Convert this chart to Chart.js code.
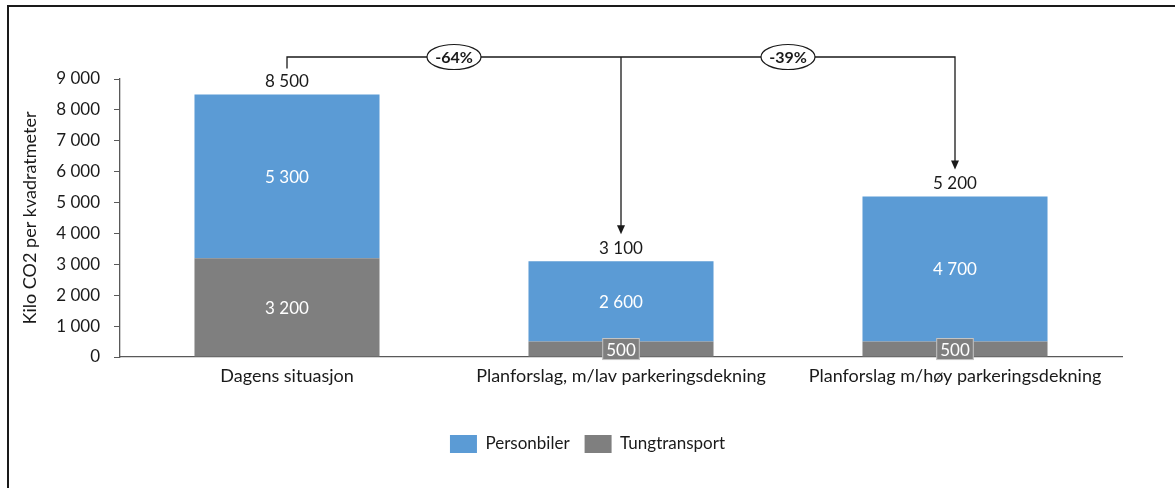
<!DOCTYPE html>
<html>
<head>
<meta charset="utf-8">
<script src="https://cdn.jsdelivr.net/npm/chart.js@4"></script>
<style>
  html, body { margin: 0; padding: 0; background: #fff; }
  #wrap { position: absolute; left: 0; top: 0; width: 1175px; height: 488px; }
</style>
</head>
<body>
<div id="wrap"><canvas id="chart" width="1175" height="488"></canvas></div>
<script>
// Data
const categories   = ['Dagens situasjon', 'Planforslag, m/lav parkeringsdekning', 'Planforslag m/høy parkeringsdekning'];
const personbiler  = [5300, 2600, 4700];
const tungtransport = [3200, 500, 500];
const changeLabels = ['-64%', '-39%'];
const yTicks       = [0, 1000, 2000, 3000, 4000, 5000, 6000, 7000, 8000, 9000];

const BLUE = '#5b9bd5';
const GRAY = '#7f7f7f';
const FONT = 'Lato, "Open Sans", sans-serif';

function fmt(v) {
  return String(Math.round(v)).replace(/\B(?=(\d{3})+(?!\d))/g, '\u00a0');
}

// ramme rundt figuren (kun topp og venstre synlig)
const framePlugin = {
  id: 'frame',
  beforeDraw(chart) {
    const c = chart.ctx;
    c.save();
    c.fillStyle = '#fff';
    c.fillRect(0, 0, chart.width, chart.height);
    c.strokeStyle = '#1a1a1a';
    c.lineWidth = 2;
    c.beginPath();
    c.moveTo(8, chart.height + 5);
    c.lineTo(8, 6);
    c.lineTo(chart.width + 5, 6);
    c.stroke();
    c.restore();
  }
};

// verdier i og over stolpene
const labelPlugin = {
  id: 'barLabels',
  afterDatasetsDraw(chart) {
    const c = chart.ctx;
    const y = chart.scales.y;
    c.save();
    c.font = '17px ' + FONT;
    c.textAlign = 'center';
    c.textBaseline = 'middle';
    chart.data.datasets.forEach((ds, di) => {
      const meta = chart.getDatasetMeta(di);
      meta.data.forEach((bar, i) => {
        const v = ds.data[i];
        const cy = (bar.y + bar.base) / 2;
        const txt = fmt(v);
        if (bar.base - bar.y < 24) {
          const w = c.measureText(txt).width + 8;
          c.fillStyle = ds.backgroundColor;
          c.fillRect(bar.x - w / 2, cy - 11, w, 22);
          c.strokeStyle = 'rgba(255,255,255,0.55)';
          c.lineWidth = 1;
          c.strokeRect(bar.x - w / 2 + 0.5, cy - 10.5, w - 1, 21);
        }
        c.fillStyle = '#fff';
        c.fillText(txt, bar.x, cy + 1);
      });
    });
    // totaler
    c.fillStyle = '#1a1a1a';
    const top = chart.getDatasetMeta(1);
    top.data.forEach((bar, i) => {
      const total = tungtransport[i] + personbiler[i];
      c.fillText(fmt(total), bar.x, y.getPixelForValue(total) - 13);
    });
    c.restore();
  }
};

// piler med prosentvis endring
const arrowPlugin = {
  id: 'arrows',
  afterDraw(chart) {
    const c = chart.ctx;
    const y = chart.scales.y;
    const meta = chart.getDatasetMeta(1);
    const tot = categories.map((_, i) => tungtransport[i] + personbiler[i]);
    const xs = meta.data.map(b => b.x);
    const lineY = chart.chartArea.top - 22;
    const labY = tot.map(t => y.getPixelForValue(t) - 13);
    c.save();
    c.strokeStyle = '#1a1a1a';
    c.fillStyle = '#1a1a1a';
    c.lineWidth = 1.3;
    c.beginPath();
    c.moveTo(xs[0], labY[0] - 13);
    c.lineTo(xs[0], lineY);
    c.lineTo(xs[2], lineY);
    c.lineTo(xs[2], labY[2] - 18);
    c.moveTo(xs[1], lineY);
    c.lineTo(xs[1], labY[1] - 18);
    c.stroke();
    [1, 2].forEach(i => {
      const tipY = labY[i] - 14;
      c.beginPath();
      c.moveTo(xs[i], tipY);
      c.lineTo(xs[i] - 4, tipY - 9);
      c.lineTo(xs[i] + 4, tipY - 9);
      c.closePath();
      c.fill();
    });
    c.font = 'bold 16px ' + FONT;
    c.textAlign = 'center';
    c.textBaseline = 'middle';
    changeLabels.forEach((lab, i) => {
      const cx = (xs[i] + xs[i + 1]) / 2;
      c.beginPath();
      c.ellipse(cx, lineY, 27, 12.5, 0, 0, Math.PI * 2);
      c.fillStyle = '#fff';
      c.fill();
      c.lineWidth = 1.2;
      c.stroke();
      c.fillStyle = '#1a1a1a';
      c.fillText(lab, cx, lineY + 1);
    });
    c.restore();
  }
};

new Chart(document.getElementById('chart'), {
  type: 'bar',
  data: {
    labels: categories,
    datasets: [
      { label: 'Tungtransport', data: tungtransport, backgroundColor: GRAY },
      { label: 'Personbiler', data: personbiler, backgroundColor: BLUE }
    ]
  },
  options: {
    responsive: false,
    animation: false,
    datasets: { bar: { categoryPercentage: 1, barPercentage: 0.554 } },
    layout: { padding: { left: 0, right: 0, top: 79, bottom: 25 } },
    scales: {
      x: {
        stacked: true,
        grid: { display: false },
        border: { display: true, color: '#595959', width: 1.3 },
        ticks: { color: '#1a1a1a', font: { family: FONT, size: 18 }, padding: 0, maxRotation: 0 },
        afterFit(s) { s.height = 63; }
      },
      y: {
        stacked: true,
        min: 0,
        max: 9000,
        afterBuildTicks(s) { s.ticks = yTicks.map(v => ({ value: v })); },
        grid: { drawOnChartArea: false, drawTicks: true, tickLength: 6, color: '#595959' },
        border: { display: true, color: '#595959', width: 1.3 },
        ticks: { color: '#1a1a1a', font: { family: FONT, size: 17 }, padding: 14, callback: v => fmt(v) },
        title: { display: true, text: 'Kilo CO2 per kvadratmeter', color: '#1a1a1a',
                 font: { family: FONT, size: 18 }, padding: { top: 19, bottom: 0 } },
        afterFit(s) { s.width = 120; }
      },
      // tom akse til høyre som bare holder plass
      right: {
        position: 'right',
        display: true,
        grid: { display: false },
        border: { display: false },
        ticks: { display: false },
        afterFit(s) { s.width = 53; }
      }
    },
    plugins: {
      legend: {
        position: 'bottom',
        reverse: true,
        labels: { boxWidth: 27, boxHeight: 18, padding: 15, color: '#1a1a1a', font: { family: FONT, size: 17 } }
      },
      tooltip: { enabled: false }
    }
  },
  plugins: [framePlugin, labelPlugin, arrowPlugin]
});
</script>
</body>
</html>
